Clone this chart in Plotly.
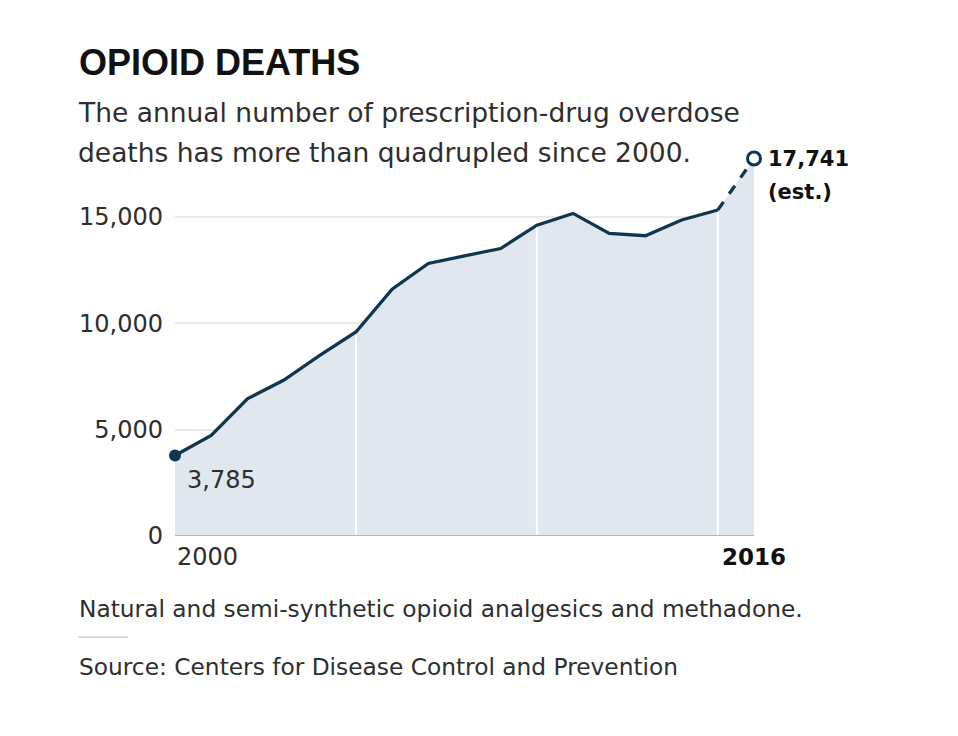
import plotly.graph_objects as go

# prescription-opioid overdose deaths per year
years = list(range(2000, 2017))
deaths = [3785, 4730, 6450, 7320, 8490, 9590, 11600, 12810, 13170, 13510,
          14610, 15160, 14220, 14110, 14850, 15320, 17741]
grid_years = [2005, 2010, 2015]
y_ticks = [0, 5000, 10000, 15000]
y_tick_text = ["0", "5,000", "10,000", "15,000"]

NAVY = "#0f3651"
FILL = "#e1e7ee"
TEXT = "#2e2e2e"
DARK = "#111111"
BODY = "DejaVu Sans, Verdana, sans-serif"
HEAD = "Liberation Sans, Arial, sans-serif"

# figure geometry (page has an 8px body margin)
W, H = 950, 728
L, R, T, B = 167, 204, 145, 200
PW, PH = W - L - R, H - T - B


def px(x_page):
    return (x_page - 8 - L) / PW


def py(y_page):
    return (H - B - (y_page - 8)) / PH


fig = go.Figure()

# shaded area under the whole series
fig.add_trace(go.Scatter(
    x=years, y=deaths, mode="lines", fill="tozeroy",
    fillcolor=FILL, line={"width": 0}, hoverinfo="skip", showlegend=False,
))

# white year dividers sitting on the area, under the line
gx, gy = [], []
for yr in grid_years:
    gx += [yr, yr, None]
    gy += [0, deaths[years.index(yr)], None]
fig.add_trace(go.Scatter(
    x=gx, y=gy, mode="lines", line={"color": "white", "width": 2},
    hoverinfo="skip", showlegend=False,
))

# observed series, solid
fig.add_trace(go.Scatter(
    x=years[:-1], y=deaths[:-1], mode="lines",
    line={"color": NAVY, "width": 3.3}, showlegend=False,
))
# estimate, dashed
fig.add_trace(go.Scatter(
    x=years[-2:], y=deaths[-2:], mode="lines",
    line={"color": NAVY, "width": 3.3, "dash": "dash"}, showlegend=False,
))
# end markers
fig.add_trace(go.Scatter(
    x=[years[0]], y=[deaths[0]], mode="markers",
    marker={"color": NAVY, "size": 12}, cliponaxis=False, showlegend=False,
))
fig.add_trace(go.Scatter(
    x=[years[-1]], y=[deaths[-1]], mode="markers",
    marker={"color": "white", "size": 13, "line": {"color": NAVY, "width": 3}},
    cliponaxis=False, showlegend=False,
))


def note(text, x, y, size, color=TEXT, family=BODY, xanchor="left", **kw):
    d = dict(text=text, x=x, y=y, showarrow=False, xanchor=xanchor, yanchor="middle",
             font={"size": size, "color": color, "family": family})
    d.update(kw)
    return d


annotations = [
    # point labels
    note(f"{deaths[0]:,}", years[0], deaths[0], 24, xshift=10, yshift=-25),
    note(f"<b>{deaths[-1]:,}</b>", years[-1], deaths[-1], 21, DARK, xshift=12),
    note("<b>(est.)</b>", years[-1], deaths[-1], 21, DARK, xshift=12, yshift=-33),
    # x labels
    note(str(years[0]), years[0], 0, 24, xshift=0, yshift=-21),
    note(f"<b>{years[-1]}</b>", years[-1], 0, 23, DARK, xanchor="center", yshift=-21),
    # headline block
    note("<b>OPIOID DEATHS</b>", px(77), py(63), 36, DARK, HEAD, xref="paper", yref="paper"),
    note("The annual number of prescription-drug overdose", px(76), py(112), 26.5,
         xref="paper", yref="paper"),
    note("deaths has more than quadrupled since 2000.", px(76), py(152), 26.5,
         xref="paper", yref="paper"),
    # footer
    note("Natural and semi-synthetic opioid analgesics and methadone.", px(77), py(608), 23.3,
         xref="paper", yref="paper"),
    note("Source: Centers for Disease Control and Prevention", px(77), py(666), 23.3,
         xref="paper", yref="paper"),
]

shapes = [
    # baseline
    dict(type="line", xref="x", yref="y", x0=years[0], x1=years[-1], y0=0, y1=0,
         line={"color": "#b5b5b5", "width": 2}, layer="above"),
    # short rule above the source line
    dict(type="line", xref="paper", yref="paper", x0=px(78), x1=px(128), y0=py(637), y1=py(637),
         line={"color": "#dddddd", "width": 2}),
]

fig.update_layout(
    width=W, height=H,
    margin={"l": L, "r": R, "t": T, "b": B},
    paper_bgcolor="white", plot_bgcolor="white",
    font={"family": BODY, "color": TEXT},
    annotations=annotations, shapes=shapes,
    showlegend=False,
)
fig.update_xaxes(range=[2000, 2016], showgrid=False, zeroline=False,
                 showticklabels=False, showline=False, fixedrange=True)
fig.update_yaxes(range=[0, 18000], tickvals=y_ticks, ticktext=y_tick_text,
                 showgrid=True, gridcolor="#e9e9e9", gridwidth=2, zeroline=False,
                 showline=False, ticks="", ticklabelstandoff=11,
                 tickfont={"size": 24, "color": TEXT}, fixedrange=True)

fig.write_html("out.html")
